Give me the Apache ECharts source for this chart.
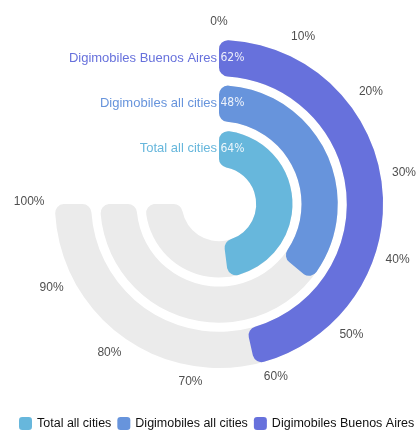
<!DOCTYPE html>
<html>
<head>
<meta charset="utf-8">
<script src="https://cdn.jsdelivr.net/npm/echarts@6/dist/echarts.min.js"></script>
<style>
  html, body { margin: 0; padding: 0; background: #fff; }
  #chart { width: 419px; height: 431px; }
</style>
</head>
<body>
<div id="chart"></div>
<script>
// Share of each group, drawn as radial bars on a 0–100 % scale
const categories = ['Total all cities', 'Digimobiles all cities', 'Digimobiles Buenos Aires'];
const values = [64, 48, 62];
const trackValues = [100, 100, 100];
const angleTicks = [0, 10, 20, 30, 40, 50, 60, 70, 80, 90, 100];
const colors = ['#67b7dc', '#6794dc', '#6771dc'];
const trackColor = '#ebebeb';

const chart = echarts.init(document.getElementById('chart'));

const barCenter = [219, 204];
const scaleCenter = [219, 202];

const angleAxisBase = {
  type: 'value',
  min: angleTicks[0],
  max: angleTicks[angleTicks.length - 1],
  interval: angleTicks[1] - angleTicks[0],
  startAngle: 90,
  endAngle: -180,
  clockwise: true,
  axisLine: { show: false },
  axisTick: { show: false },
  splitLine: { show: false },
  axisLabel: { show: false }
};

// Grey track under every ring
const trackSeries = {
  name: 'track',
  type: 'bar',
  coordinateSystem: 'polar',
  polarIndex: 0,
  data: trackValues,
  barGap: '-100%',
  barCategoryGap: '20%',
  itemStyle: { color: trackColor, borderRadius: 9 },
  silent: true,
  z: 1
};

// One series per group so each gets its own legend entry; every series
// holds a value only in its own ring and the rings overlap via barGap.
const groupSeries = categories.map((name, i) => ({
  name: name,
  type: 'bar',
  coordinateSystem: 'polar',
  polarIndex: 0,
  data: categories.map((c, j) => (j === i ? values[i] : '-')),
  barGap: '-100%',
  barCategoryGap: '20%',
  itemStyle: { color: colors[i], borderRadius: 9 },
  label: {
    show: true,
    position: 'insideStart',
    distance: 1.5,
    formatter: '{c}%',
    color: 'rgba(255,255,255,0.88)',
    fontSize: 12,
    fontFamily: '"Liberation Sans Narrow", "DejaVu Sans Condensed", "Roboto Condensed", Roboto, sans-serif'
  },
  z: 3
}));

// Percentage scale labels: anchored on a ring outside the bars, then each
// label box is pushed outward so its inner edge touches that ring.
const tickLabelSeries = {
  name: 'scale',
  type: 'scatter',
  coordinateSystem: 'polar',
  polarIndex: 1,
  data: angleTicks.map(v => [1, v]),
  symbolSize: 1,
  itemStyle: { color: 'rgba(0,0,0,0)' },
  silent: true,
  label: {
    show: true,
    position: 'inside',
    formatter: p => p.value[1] + '%',
    color: '#222',
    fontSize: 12
  },
  labelLayout: function (params) {
    const r = params.labelRect;
    const hw = r.width / 2;
    const hh = r.height / 2;
    const px = r.x + hw - scaleCenter[0];
    const py = r.y + hh - scaleCenter[1];
    const len = Math.sqrt(px * px + py * py) || 1;
    const ux = px / len;
    const uy = py / len;
    const t = Math.abs(ux) * hw + Math.abs(uy) * hh;
    return { dx: ux * t, dy: uy * t };
  },
  z: 5
};

chart.setOption({
  animation: false,
  textStyle: { fontFamily: '"Liberation Sans", Arial, sans-serif' },
  polar: [
    { center: barCenter, radius: [32.7, 168.6] },
    { center: scaleCenter, radius: [0, 174.5] }
  ],
  angleAxis: [
    Object.assign({ polarIndex: 0 }, angleAxisBase),
    Object.assign({ polarIndex: 1 }, angleAxisBase)
  ],
  radiusAxis: [
    {
      polarIndex: 0,
      type: 'category',
      data: categories,
      axisLine: { show: false },
      axisTick: { show: false },
      splitLine: { show: false },
      axisLabel: {
        interval: 0,
        margin: 2,
        fontSize: 13,
        color: (value, index) => colors[index]
      },
      z: 10
    },
    {
      polarIndex: 1,
      type: 'value',
      min: 0,
      max: 1,
      axisLine: { show: false },
      axisTick: { show: false },
      splitLine: { show: false },
      axisLabel: { show: false }
    }
  ],
  legend: {
    data: categories,
    left: 19,
    bottom: 1,
    padding: 0,
    itemWidth: 13,
    itemHeight: 13,
    itemGap: 6,
    textStyle: { fontSize: 12.5, color: '#111' }
  },
  series: [trackSeries].concat(groupSeries, [tickLabelSeries])
});
</script>
</body>
</html>
